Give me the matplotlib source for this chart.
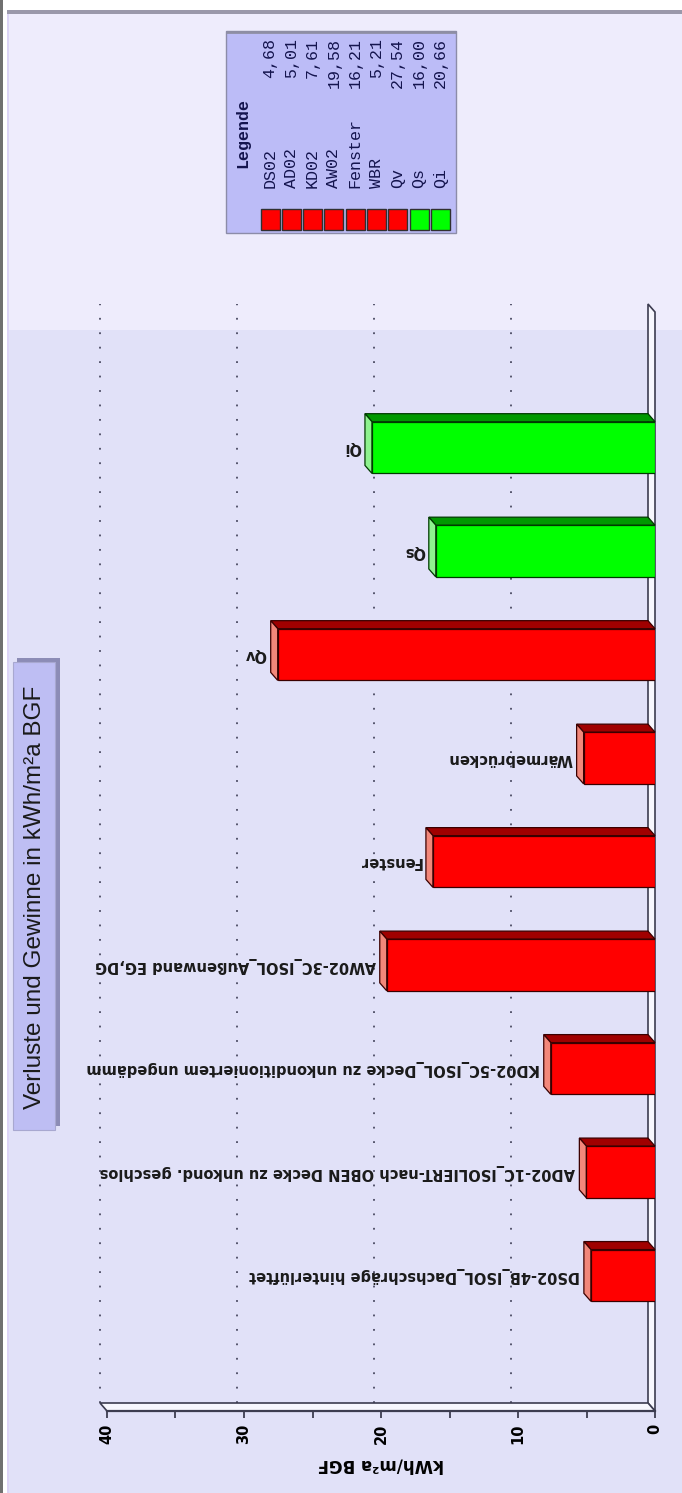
import matplotlib
matplotlib.use("Agg")
import matplotlib.pyplot as plt
from matplotlib.patches import Rectangle, Polygon
from matplotlib.transforms import offset_copy
from matplotlib.ticker import MultipleLocator

# ---- data -------------------------------------------------------------
categories = [
    "DS02-4B_ISOL_Dachschräge hinterlüftet",
    "AD02-1C_ISOLIERT-nach OBEN Decke zu unkond. geschlos",
    "KD02-5C_ISOL_Decke zu unkonditioniertem ungedämm",
    "AW02-3C_ISOL_Außenwand EG,DG",
    "Fenster",
    "Wärmebrücken",
    "Qv",
    "Qs",
    "Qi",
]
legend_keys = ["DS02", "AD02", "KD02", "AW02", "Fenster", "WBR", "Qv", "Qs", "Qi"]
values = [4.68, 5.01, 7.61, 19.58, 16.21, 5.21, 27.54, 16.00, 20.66]
kinds = ["loss", "loss", "loss", "loss", "loss", "loss", "loss", "gain", "gain"]
value_ticks = [0, 10, 20, 30, 40]
title = "Verluste und Gewinne in kWh/m²a BGF"
axis_label = "kWh/m²a BGF"

# ---- styling ------------------------------------------------------------
palette = {
    "loss": {"front": "#FF0000", "top": "#A00000", "side": "#F2877A", "edge": "#3A0000"},
    "gain": {"front": "#00FF00", "top": "#009800", "side": "#8EF28E", "edge": "#003A00"},
}
W, H = 682, 1493
fig = plt.figure(figsize=(W / 100, H / 100), dpi=100, facecolor="white")

# background canvas in pixel units
bg = fig.add_axes([0, 0, 1, 1])
bg.set_xlim(0, W)
bg.set_ylim(H, 0)
bg.axis("off")
bg.add_patch(Rectangle((0, 0), 2.5, H, color="#707070", lw=0))
bg.add_patch(Rectangle((7, 14), W - 7, 316, color="#EEECFC", lw=0))
bg.add_patch(Rectangle((7, 330), W - 7, H - 330, color="#E1E1F8", lw=0))
bg.add_patch(Rectangle((7, 10), W - 7, 4, color="#9A98AA", lw=0))
bg.add_patch(Rectangle((7, 14), 1.5, H - 14, color="#DCD4F6", lw=0))

# title box with shadow
bg.add_patch(Rectangle((17, 658), 43, 468, color="#8C8CB6", lw=0))
bg.add_patch(Rectangle((13, 662), 42, 468, facecolor="#BEBEF3", edgecolor="#A8A8D0", lw=0.8))
bg.text(35, 897, title, rotation=90, ha="center", va="center",
        fontsize=17.5, family="Liberation Sans", color="#1A1A1A")

# legend box
lx0, ly0, lw_, lh_ = 226, 31, 230, 202
bg.add_patch(Rectangle((lx0, ly0), lw_, lh_, facecolor="#BCBCF7", edgecolor="#8C8CA8", lw=1))
bg.plot([lx0, lx0 + lw_], [ly0 + 1, ly0 + 1], color="#8E8EA4", lw=2, solid_capstyle="butt")
mono = dict(family="Liberation Mono", fontsize=12, color="#14144E", rotation=90)
bg.text(243, 133, "Legende", ha="center", va="center", fontweight="bold", **mono)
for i, (key, val, kind) in enumerate(zip(legend_keys, values, kinds)):
    cx = 270 + i * 21.3
    bg.text(cx, 188, key, ha="center", va="bottom", **mono)
    bg.text(cx, 38, f"{val:.2f}".replace(".", ","), ha="center", va="top", **mono)
    bg.add_patch(Rectangle((cx - 9.5, 209), 19, 21, facecolor=palette[kind]["front"],
                           edgecolor="#303030", lw=1))

# ---- main plot ---------------------------------------------------------
px_left, px_right, px_top, px_bot = 107, 655, 312, 1411
ax = fig.add_axes([px_left / W, 1 - px_bot / H, (px_right - px_left) / W, (px_bot - px_top) / H])
ax.set_xlim(40, 0)
ylo, yhi = -1.31, 9.31
ax.set_ylim(ylo, yhi)
ax.patch.set_alpha(0)
for s in ("top", "right", "left"):
    ax.spines[s].set_visible(False)
ax.spines["bottom"].set_color("#3C3C50")
ax.spines["bottom"].set_linewidth(1.6)
ax.spines["bottom"].set_zorder(6)
ax.set_yticks([])
ax.set_xticks(value_ticks)
ax.xaxis.set_minor_locator(MultipleLocator(5))
ax.tick_params(axis="x", which="both", direction="out", length=5, width=1.3, color="#3C3C50")
ax.tick_params(axis="x", which="major", pad=4, labelsize=10.5, labelrotation=90)
for lab in ax.get_xticklabels():
    lab.set_fontweight("bold")
ax.set_xlabel(axis_label, rotation=180, fontsize=12, fontweight="bold", labelpad=8)

# depth of the 3-D effect, converted into data units
o = ax.transData.transform((0, 0))
d = ax.transData.inverted().transform((o[0] - 7, o[1] + 8))
ddx, ddy = d[0], d[1]

slab_kw = dict(facecolor="#F7F7FE", edgecolor="#3C3C50", lw=1.2, clip_on=False, zorder=2)
ax.add_patch(Polygon([(0, ylo), (0, yhi), (ddx, yhi + ddy), (ddx, ylo + ddy)], **slab_kw))
ax.add_patch(Polygon([(40, ylo), (0, ylo), (ddx, ylo + ddy), (40 + ddx, ylo + ddy)], **slab_kw))

for v in value_ticks[1:]:
    ax.plot([v + ddx, v + ddx], [ylo + ddy, yhi + ddy], ls=(0, (1, 7)), color="#4A4A62",
            lw=1.3, clip_on=False, zorder=1)

positions = list(range(len(values)))
h = 0.5
fronts = [palette[k]["front"] for k in kinds]
edges = [palette[k]["edge"] for k in kinds]
ax.barh(positions, values, height=h, color=fronts, edgecolor=edges, lw=0.9, zorder=4)
for y, v, k in zip(positions, values, kinds):
    c = palette[k]
    ax.add_patch(Polygon([(0, y + h / 2), (v, y + h / 2), (v + ddx, y + h / 2 + ddy), (ddx, y + h / 2 + ddy)],
                         facecolor=c["top"], edgecolor=c["edge"], lw=0.9, zorder=3, clip_on=False))
    ax.add_patch(Polygon([(v, y - h / 2), (v, y + h / 2), (v + ddx, y + h / 2 + ddy), (v + ddx, y - h / 2 + ddy)],
                         facecolor=c["side"], edgecolor=c["edge"], lw=0.9, zorder=3, clip_on=False))

label_tr = offset_copy(ax.transData, fig=fig, x=-11, y=0, units="dots")
for y, v, name in zip(positions, values, categories):
    ax.text(v, y, name, transform=label_tr, rotation=180, ha="right", va="center",
            fontsize=10.5, fontweight="bold", color="#1A1A1A")

fig.savefig("out.png", dpi=100, facecolor=fig.get_facecolor())
